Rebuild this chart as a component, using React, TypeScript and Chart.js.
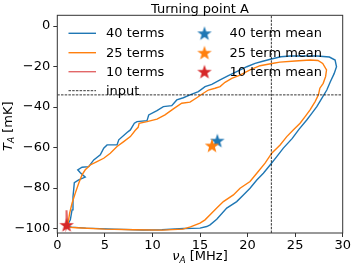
import React, { useEffect, useRef } from "react";
import { Chart, registerables } from "chart.js";
Chart.register(...registerables);

const chartTitle = "Turning point A";
const xTicks = [0, 5, 10, 15, 20, 25, 30];
const yTicks = [-100, -80, -60, -40, -20, 0];
const xMin = 0, xMax = 30, yMin = -102.2, yMax = 5.3;

const labels40 = "40 terms";
const labels25 = "25 terms";
const labels10 = "10 terms";
const meanLabels = ["40 term mean", "25 term mean", "10 term mean"];
const inputLabel = "input";

const nu40 = [1.02, 1.37, 1.55, 1.65, 1.72, 1.79, 2.25, 2.94, 2.42, 2.15, 2.6, 3.3, 3.83, 4.52, 4.88, 5.23, 6.28, 6.46, 7.33, 7.68, 8.1, 8.38, 9.43, 9.61, 10.48, 11.15, 12.03, 12.56, 13.25, 13.95, 14.83, 15.53, 16.24, 17.11, 17.98, 18.86, 19.92, 20.79, 21.6, 22.5, 23.5, 24.5, 27.3, 28.6, 29.2, 29.35, 29.1, 28.7, 28.33, 27.8, 27.28, 26.75, 26.22, 25.4, 24.7, 23.76, 23.07, 22.37, 21.66, 20.97, 20.26, 19.56, 18.86, 17.81, 16.76, 16.06, 15.71, 15.0, 13.3, 11.0, 9.0, 6.0, 3.0, 1.5, 1.02];
const t40 = [-98.7, -95.7, -90.8, -84.2, -80.9, -77.3, -76.0, -74.6, -72.4, -71.0, -69.7, -69.4, -66.1, -63.6, -60.3, -58.7, -58.7, -56.2, -52.6, -51.3, -48.0, -47.2, -46.7, -43.9, -41.8, -39.8, -39.3, -36.5, -35.4, -34.0, -32.4, -29.9, -28.8, -26.6, -24.5, -22.5, -20.1, -18.4, -17.4, -16.3, -15.2, -14.8, -14.8, -15.3, -16.8, -20.1, -23.5, -27.5, -31.6, -35.7, -39.8, -43.1, -46.4, -51.0, -55.5, -60.3, -64.5, -68.6, -72.7, -76.0, -80.1, -83.4, -86.7, -89.9, -95.4, -98.2, -99.0, -99.8, -100.0, -100.6, -100.7, -100.3, -99.8, -99.3, -98.7];

const nu25 = [1.0, 1.13, 1.3, 1.55, 1.89, 2.25, 2.6, 2.94, 3.47, 4.17, 4.88, 5.57, 6.28, 6.98, 7.68, 8.2, 8.5, 8.6, 9.43, 10.48, 11.32, 12.2, 13.08, 13.95, 14.66, 15.35, 15.88, 16.58, 17.11, 17.63, 18.34, 19.21, 20.26, 21.31, 22.71, 23.4, 25.0, 26.57, 27.4, 27.9, 28.3, 28.2, 27.95, 27.6, 27.45, 27.1, 26.57, 26.05, 25.52, 24.8, 24.12, 23.42, 22.54, 21.84, 20.97, 20.26, 19.21, 18.51, 17.46, 16.76, 16.06, 15.53, 15.0, 14.0, 13.2, 11.0, 8.0, 5.0, 2.0, 1.0];
const t25 = [-99.3, -97.3, -92.4, -87.5, -82.5, -77.6, -73.5, -71.0, -68.6, -66.9, -65.3, -62.8, -59.5, -57.1, -54.6, -51.5, -50.0, -48.0, -47.2, -46.0, -43.9, -40.9, -38.1, -37.6, -35.4, -33.2, -31.6, -30.7, -29.9, -27.8, -25.8, -24.2, -21.7, -19.6, -18.4, -17.8, -17.3, -16.8, -17.0, -18.5, -21.7, -25.0, -28.3, -30.7, -34.0, -37.3, -41.4, -44.7, -48.0, -51.3, -54.6, -58.7, -62.8, -67.7, -72.7, -76.8, -80.1, -83.4, -86.7, -89.9, -93.2, -95.7, -97.3, -99.2, -100.3, -100.8, -100.6, -100.3, -99.6, -99.3];

const nu10 = [1.0, 0.95, 0.92, 1.04, 1.06, 1.0];
const t10 = [-91.0, -96.5, -100.2, -99.0, -95.5, -91.0];

const meanNu = [16.82, 16.26, 0.98];
const meanT = [-56.6, -59.0, -98.2];

const inputNu = 22.5;
const inputT = -34.0;

const BLUE = "#1f77b4";
const ORANGE = "#ff7f0e";
const RED = "#d62728";
const RED_LINE = "rgba(214,39,40,0.7)";
const FONT = "'DejaVu Sans', sans-serif";

function pts(xs: number[], ys: number[]) {
  return xs.map((x, i) => ({ x, y: ys[i] }));
}

function makeStar(color: string, r = 7.6) {
  const size = Math.ceil(r * 2 + 2);
  const c = document.createElement("canvas");
  c.width = size;
  c.height = size;
  const ctx = c.getContext("2d")!;
  const cx = size / 2, cy = size / 2 + 0.6;
  const inner = r * 0.4;
  ctx.beginPath();
  for (let i = 0; i < 10; i++) {
    const rr = i % 2 === 0 ? r : inner;
    const a = -Math.PI / 2 + (i * Math.PI) / 5;
    const px = cx + rr * Math.cos(a);
    const py = cy + rr * Math.sin(a);
    if (i === 0) ctx.moveTo(px, py);
    else ctx.lineTo(px, py);
  }
  ctx.closePath();
  ctx.fillStyle = color;
  ctx.fill();
  return c;
}

export default function App() {
  const ref = useRef<HTMLCanvasElement | null>(null);
  useEffect(() => {
    document.body.style.margin = "0";
    if (!ref.current) return;
    const stars = [makeStar(BLUE), makeStar(ORANGE), makeStar(RED)];

    const decoPlugin = {
      id: "deco",
      afterDraw(chart: any) {
        const { ctx, chartArea } = chart;
        const { left, right, top, bottom } = chartArea;
        ctx.save();
        // frame
        ctx.strokeStyle = "#333";
        ctx.lineWidth = 1;
        ctx.strokeRect(left, top, right - left, bottom - top);
        // title
        ctx.fillStyle = "#000";
        ctx.font = `13px ${FONT}`;
        ctx.textAlign = "center";
        ctx.textBaseline = "alphabetic";
        ctx.fillText(chartTitle, (left + right) / 2, 12.5);
        const drawSubTitle = (sym: string, sub: string, rest: string) => {
          ctx.font = `italic 13px ${FONT}`;
          const w1 = ctx.measureText(sym).width;
          ctx.font = `italic 9px ${FONT}`;
          const w2 = ctx.measureText(sub).width;
          ctx.font = `13px ${FONT}`;
          const w3 = ctx.measureText(rest).width;
          const total = w1 + w2 + w3;
          let x = -total / 2;
          ctx.textAlign = "left";
          ctx.font = `italic 13px ${FONT}`;
          ctx.fillText(sym, x, 0);
          x += w1;
          ctx.font = `italic 9px ${FONT}`;
          ctx.fillText(sub, x, 2.5);
          x += w2;
          ctx.font = `13px ${FONT}`;
          ctx.fillText(rest, x, 0);
        };
        ctx.save();
        ctx.translate((left + right) / 2, 260);
        drawSubTitle("\u03bd", "A", " [MHz]");
        ctx.restore();
        ctx.save();
        ctx.translate(11.5, (top + bottom) / 2 + 2);
        ctx.rotate(-Math.PI / 2);
        drawSubTitle("T", "A", " [mK]");
        ctx.restore();

        // legend
        const rows = [33.3, 52.7, 71.7, 90.7];
        ctx.font = `13px ${FONT}`;
        ctx.textAlign = "left";
        ctx.textBaseline = "middle";
        const lineItems = [
          { label: labels40, color: BLUE, dash: [] as number[], w: 1.4 },
          { label: labels25, color: ORANGE, dash: [] as number[], w: 1.4 },
          { label: labels10, color: RED_LINE, dash: [] as number[], w: 1.4 },
          { label: inputLabel, color: "#000", dash: [2.5, 1.2], w: 0.8 },
        ];
        lineItems.forEach((it, i) => {
          ctx.save();
          ctx.strokeStyle = it.color;
          ctx.lineWidth = it.w;
          ctx.setLineDash(it.dash);
          ctx.beginPath();
          ctx.moveTo(68.5, rows[i]);
          ctx.lineTo(96, rows[i]);
          ctx.stroke();
          ctx.restore();
          ctx.fillStyle = "#000";
          ctx.fillText(it.label, 106, rows[i] + 0.5);
        });
        meanLabels.forEach((lab, i) => {
          const s = stars[i];
          ctx.drawImage(s, 204.5 - s.width / 2, rows[i] - s.height / 2);
          ctx.fillStyle = "#000";
          ctx.fillText(lab, 229.5, rows[i] + 0.5);
        });
        ctx.restore();
      },
    };

    const fmt = (v: any) => {
      const n = Number(v);
      return n < 0 ? "\u2212" + Math.abs(n) : String(n);
    };

    const chart = new Chart(ref.current, {
      type: "scatter",
      data: {
        datasets: [
          {
            label: meanLabels[0],
            data: [{ x: meanNu[0], y: meanT[0] }],
            pointStyle: stars[0] as any,
            order: 2,
          },
          {
            label: meanLabels[1],
            data: [{ x: meanNu[1], y: meanT[1] }],
            pointStyle: stars[1] as any,
            order: 1,
          },
          {
            label: meanLabels[2],
            data: [{ x: meanNu[2], y: meanT[2] }],
            pointStyle: stars[2] as any,
            order: 0,
          },
          {
            label: labels40,
            data: pts(nu40, t40),
            showLine: true,
            borderColor: BLUE,
            borderWidth: 1.4,
            pointRadius: 0,
            order: 12,
          },
          {
            label: labels25,
            data: pts(nu25, t25),
            showLine: true,
            borderColor: ORANGE,
            borderWidth: 1.4,
            pointRadius: 0,
            order: 11,
          },
          {
            label: labels10,
            data: pts(nu10, t10),
            showLine: true,
            borderColor: RED_LINE,
            borderWidth: 1.4,
            pointRadius: 0,
            order: 10,
          },
          {
            label: inputLabel,
            data: [{ x: xMin, y: inputT }, { x: xMax, y: inputT }],
            showLine: true,
            borderColor: "#000",
            borderWidth: 0.8,
            borderDash: [2.5, 1.2],
            pointRadius: 0,
            order: 5,
          },
          {
            label: inputLabel + " ",
            data: [{ x: inputNu, y: yMin }, { x: inputNu, y: yMax }],
            showLine: true,
            borderColor: "#000",
            borderWidth: 0.8,
            borderDash: [2.5, 1.2],
            pointRadius: 0,
            order: 5,
          },
        ],
      },
      options: {
        animation: false,
        responsive: true,
        maintainAspectRatio: false,
        layout: { padding: { top: 15.3, right: 14.3, left: 0, bottom: 0 } },
        plugins: {
          legend: { display: false },
          tooltip: { enabled: false },
          title: { display: false },
        },
        scales: {
          x: {
            type: "linear",
            min: xMin,
            max: xMax,
            afterBuildTicks: (s: any) => {
              s.ticks = xTicks.map((v) => ({ value: v }));
            },
            afterFit: (s: any) => {
              s.height = 35;
            },
            grid: {
              drawOnChartArea: false,
              drawTicks: true,
              tickLength: 4,
              tickColor: "#333",
              tickWidth: 1,
            },
            border: { display: false },
            ticks: {
              color: "#000",
              font: { family: FONT, size: 13 },
              padding: 1,
              maxRotation: 0,
              callback: fmt,
            },
          },
          y: {
            type: "linear",
            min: yMin,
            max: yMax,
            afterBuildTicks: (s: any) => {
              s.ticks = yTicks.map((v) => ({ value: v }));
            },
            afterFit: (s: any) => {
              s.width = 57.3;
            },
            grid: {
              drawOnChartArea: false,
              drawTicks: true,
              tickLength: 4,
              tickColor: "#333",
              tickWidth: 1,
            },
            border: { display: false },
            ticks: {
              color: "#000",
              font: { family: FONT, size: 13 },
              padding: 3,
              callback: fmt,
            },
          },
        },
      },
      plugins: [decoPlugin],
    });
    return () => chart.destroy();
  }, []);
  return (
    <div style={{ width: 357, height: 268, position: "relative" }}>
      <canvas ref={ref} />
    </div>
  );
}
